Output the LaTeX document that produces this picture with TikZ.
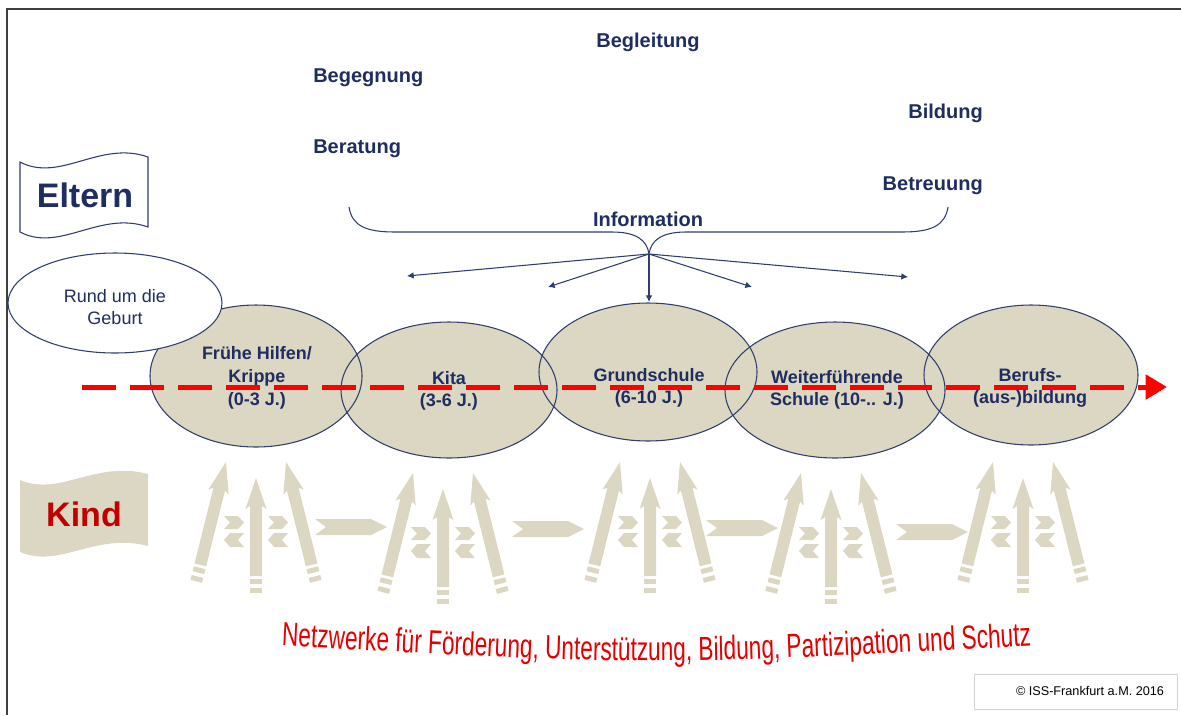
\documentclass[tikz,border=0pt]{standalone}
\usepackage{fontspec}
\setmainfont{Liberation Sans}
\newfontfamily\netzfont[FakeStretch=0.68]{Liberation Sans}
\usetikzlibrary{arrows.meta,decorations.text}

\definecolor{navycol}{RGB}{31,45,96}
\definecolor{edgecol}{RGB}{47,62,108}
\definecolor{beigecol}{RGB}{220,215,194}
\definecolor{kindredcol}{RGB}{192,0,0}
\definecolor{lifered}{RGB}{255,0,0}
\definecolor{netzred}{RGB}{228,0,0}
\definecolor{framecol}{RGB}{64,64,64}

\tikzset{
  frameline/.style={draw=framecol, line width=1.5pt},
  elternflag/.style={draw=edgecol, fill=white, line width=0.8pt},
  kidfill/.style={fill=beigecol},
  bannertext/.style={font=\bfseries\fontsize{25.5}{30}\selectfont, inner sep=0pt},
  topictext/.style={font=\bfseries\fontsize{15}{18}\selectfont, text=navycol, inner sep=0pt},
  stagetext/.style={font=\bfseries\fontsize{13.5}{17}\selectfont, text=navycol, align=center, inner sep=0pt},
  rundtext/.style={font=\fontsize{13.5}{17}\selectfont, text=navycol, align=center, inner sep=0pt},
  stageedge/.style={draw=edgecol, line width=0.8pt},
  bracestyle/.style={draw=edgecol, line width=0.8pt},
  infoarrow/.style={draw=edgecol, line width=0.8pt, -{Latex[length=5pt,width=5pt]}},
  lifeline/.style={draw=lifered, line width=3.75pt, dash pattern=on 25.5pt off 10.5pt, -{Triangle[length=16pt,width=18pt]}},
  copybox/.style={draw=gray!35, line width=0.6pt, minimum width=152pt, minimum height=26pt, inner sep=0pt},
  copytext/.style={font=\fontsize{9.5}{11}\selectfont, inner sep=0pt},
  % one beige arrow of the Kind fan, tip at the origin (pics draw with y upwards)
  kidarrow/.pic={
    \fill[kidfill] (0,0) -- (10.5,-31) -- (6,-28) -- (6,18-#1) -- (-6,18-#1) -- (-6,-28) -- (-10.5,-31) -- cycle;
    \fill[kidfill] (-6,15-#1) rectangle (6,10-#1);
    \fill[kidfill] (-6,6-#1) rectangle (6,1-#1);
  },
  feathers/.pic={
    \fill[kidfill] (0,0) -- (14,0) -- (20,-6.5) -- (14,-13) -- (0,-13) -- (6,-6.5) -- cycle;
    \fill[kidfill] (6,-17) -- (20,-17) -- (14,-24) -- (20,-31) -- (6,-31) -- (0,-24) -- cycle;
  },
  kidgroup/.pic={
    \pic[rotate=-14] at (-30,0) {kidarrow=124};
    \pic at (0,-16) {kidarrow=116};
    \pic[rotate=14] at (30,0) {kidarrow=124};
    \pic at (-32,-54) {feathers};
    \pic at (12,-54) {feathers};
  },
  flowarrow/.pic={
    \fill[kidfill] (0,-8) -- (56,-8) -- (72,0) -- (56,8) -- (0,8) -- (11,0) -- cycle;
  }
}

\begin{document}
\begin{tikzpicture}[x=0.75pt,y=0.75pt,yscale=-1,xscale=1]
\useasboundingbox (0,0) rectangle (1181,715);

%Frame
\draw[frameline] (7,715) -- (7,9) -- (1181,9);

%Shape: Wave [Eltern]
\draw[elternflag] (20,162) .. controls (60,183) and (100,140) .. (148,157) -- (148,227) .. controls (100,210) and (60,253) .. (20,232) -- cycle;
% Text Node
\node[bannertext, text=navycol] (eltern) at (85,195) {Eltern};

%Shape: Wave [Kind]
\fill[kidfill] (20,480) .. controls (60,497) and (95,460) .. (148,474) -- (148,546) .. controls (95,532) and (60,569) .. (20,552) -- cycle;
% Text Node
\node[bannertext, text=kindredcol] (kind) at (84,514) {Kind};

% Text Nodes
\node[topictext] (begleitung) at (648,42) {Begleitung};
\node[topictext, anchor=west] (begegnung) at (313,78) {Begegnung};
\node[topictext, anchor=west] (beratung) at (313,149) {Beratung};
\node[topictext, anchor=east] (bildung) at (983,113) {Bildung};
\node[topictext, anchor=east] (betreuung) at (983,186) {Betreuung};
\node[topictext] (information) at (648,219) {Information};

%Curve Lines [brace]
\draw[bracestyle] (349,207) .. controls (352,226) and (366,232) .. (395,232) -- (612,232) .. controls (636,232) and (647,240) .. (649,254) .. controls (651,240) and (662,232) .. (686,232) -- (902,232) .. controls (931,232) and (945,226) .. (948,207);
\coordinate (fanroot) at (649,254);

%Shape: Ellipses
\foreach \cx/\cy/\rx/\ry in {256/376/106/71, 449/390/108/68, 648/372/109/69, 835/390/110/68, 1031/375/107/70}
  \fill[beigecol] (\cx,\cy) ellipse [x radius=\rx, y radius=\ry];
\foreach \cx/\cy/\rx/\ry in {256/376/106/71, 449/390/108/68, 648/372/109/69, 835/390/110/68, 1031/375/107/70}
  \draw[stageedge] (\cx,\cy) ellipse [x radius=\rx, y radius=\ry];
\filldraw[stageedge, fill=white] (115,303) ellipse [x radius=107, y radius=50];

% Text Nodes
\node[rundtext] (rund) at (115,307) {Rund um die\\Geburt};
\node[stagetext] (krippe) at (257,378) {Frühe Hilfen/\\Krippe\\(0-3 J.)};
\node[stagetext] (kita) at (449,391) {Kita\\(3-6 J.)};
\node[stagetext] (grundschule) at (649,388) {Grundschule\\(6-10 J.)};
\node[stagetext] (weiter) at (837,390) {Weiterführende\\Schule (10-.. J.)};
\node[stagetext] (berufs) at (1030,388) {Berufs-\\(aus-)bildung};

%Straight Lines [information]
\coordinate (toKrippe) at (407,276);
\coordinate (toKita) at (548,287);
\coordinate (toGrund) at (649,302);
\coordinate (toWeiter) at (752,287);
\coordinate (toBeruf) at (908,277);
\draw[infoarrow] (fanroot) -- (toKrippe);
\draw[infoarrow] (fanroot) -- (toKita);
\draw[infoarrow] (fanroot) -- (toGrund);
\draw[infoarrow] (fanroot) -- (toWeiter);
\draw[infoarrow] (fanroot) -- (toBeruf);

%Straight Lines [life line]
\coordinate (lifeL) at (82,387);
\coordinate (lifeR) at (1167,387);
\draw[lifeline] (lifeL) -- (lifeR);

%Shapes: Kind arrows
\pic at (256,462) {kidgroup};
\pic at (443,473) {kidgroup};
\pic at (650,462) {kidgroup};
\pic at (831,473) {kidgroup};
\pic at (1023,462) {kidgroup};
\pic at (315,527) {flowarrow};
\pic at (512,529) {flowarrow};
\pic at (706,528) {flowarrow};
\pic at (896,532) {flowarrow};

% Text along curve
\coordinate (netzL) at (268,645);
\coordinate (netzR) at (1044,645);
\path[decorate, decoration={text along path, text align=center, text={|\netzfont\fontsize{25}{28}\selectfont\color{netzred}|Netzwerke für Förderung, Unterstützung, Bildung, Partizipation und Schutz}}] (netzL) .. controls (656,666) .. (netzR);

% Text Node
\node[copybox] (copyright) at (1076,692) {};
\node[copytext] (copyrighttext) at (1090,691) {© ISS-Frankfurt a.M. 2016};

\end{tikzpicture}
\end{document}
